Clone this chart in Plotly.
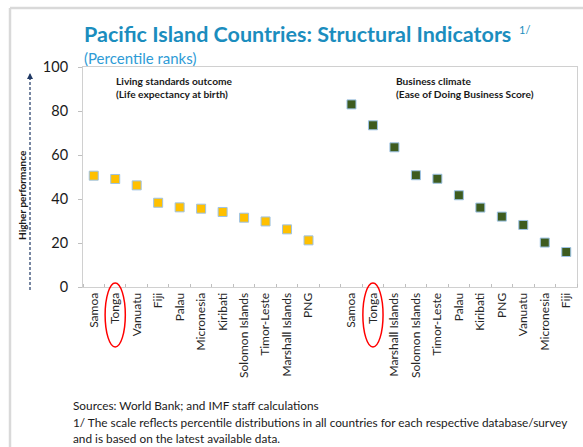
import plotly.graph_objects as go

# ---------------- data ----------------
left_countries = ["Samoa", "Tonga", "Vanuatu", "Fiji", "Palau", "Micronesia", "Kiribati",
                  "Solomon Islands", "Timor-Leste", "Marshall Islands", "PNG"]
left_values = [50.6, 49.1, 46.2, 38.3, 36.2, 35.6, 34.1, 31.5, 29.8, 26.2, 21.2]

right_countries = ["Samoa", "Tonga", "Marshall Islands", "Solomon Islands", "Timor-Leste", "Palau",
                   "Kiribati", "PNG", "Vanuatu", "Micronesia", "Fiji"]
right_values = [83.0, 73.5, 63.5, 50.8, 49.2, 41.7, 36.1, 32.0, 28.2, 20.2, 15.9]

y_ticks = [0, 20, 40, 60, 80, 100]
highlight = "Tonga"

# ---------------- layout helpers ----------------
W, H = 583, 447
L, R, T, B = 83, 6, 67, 160
pw, ph = W - L - R, H - T - B


def px(x):
    return (x - L) / pw


def py(y):
    return (H - B - y) / ph


FONT = "Lato, 'Open Sans', sans-serif"
TXT = "#1a1a1a"

left_x = list(range(len(left_countries)))
right_x = [len(left_countries) + 1 + i for i in range(len(right_countries))]
n_slots = right_x[-1] + 1

fig = go.Figure()
fig.add_trace(go.Scatter(
    x=left_x, y=left_values, mode="markers", showlegend=False,
    marker=dict(symbol="square", size=9, color="#FFC000",
                line=dict(color="#9DC3E6", width=1)),
))
fig.add_trace(go.Scatter(
    x=right_x, y=right_values, mode="markers", showlegend=False,
    marker=dict(symbol="square", size=9, color="#3E5C1F",
                line=dict(color="#9DC3E6", width=1)),
))

fig.update_xaxes(
    range=[-0.5, n_slots - 0.5],
    tickmode="array", tickvals=left_x + right_x, ticktext=left_countries + right_countries,
    tickangle=-90, ticks="", showgrid=False, zeroline=False,
    showline=True, mirror=True, linecolor="#D0D0D0", linewidth=1,
    tickfont=dict(family=FONT, size=12, color="#262626"),
    minor=dict(tickmode="array", tickvals=[i - 0.5 for i in range(n_slots + 1)],
               ticks="inside", ticklen=3, tickcolor="#BFBFBF", tickwidth=1, showgrid=False),
)
fig.update_yaxes(
    range=[0, 100], tickmode="array", tickvals=y_ticks,
    ticks="outside", ticklen=4, tickcolor="#BFBFBF", showgrid=False, zeroline=False,
    showline=True, mirror=True, linecolor="#D0D0D0", linewidth=1,
    tickfont=dict(family=FONT, size=14.5, color=TXT), ticklabelstandoff=7,
)

annotations = [
    dict(x=px(82), y=py(34), xref="paper", yref="paper", xanchor="left", yanchor="middle",
         text="<b>Pacific Island Countries: Structural Indicators</b>", showarrow=False,
         font=dict(family=FONT, size=21.5, color="#1B8DBE")),
    dict(x=px(517), y=py(30), xref="paper", yref="paper", xanchor="left", yanchor="middle",
         text="1/", showarrow=False, font=dict(family=FONT, size=11, color="#1B8DBE")),
    dict(x=px(82), y=py(58), xref="paper", yref="paper", xanchor="left", yanchor="middle",
         text="(Percentile ranks)", showarrow=False,
         font=dict(family=FONT, size=15, color="#2E9BD6")),
    dict(x=px(114), y=py(73), xref="paper", yref="paper", xanchor="left", yanchor="top",
         text="<b>Living standards outcome<br>(Life expectancy at birth)</b>", showarrow=False,
         align="left", font=dict(family=FONT, size=10.2, color=TXT)),
    dict(x=px(394), y=py(73), xref="paper", yref="paper", xanchor="left", yanchor="top",
         text="<b>Business climate<br>(Ease of Doing Business Score)</b>", showarrow=False,
         align="left", font=dict(family=FONT, size=10.2, color=TXT)),
    dict(x=px(22), y=py(195), xref="paper", yref="paper", xanchor="center", yanchor="middle",
         text="<b>Higher performance</b>", textangle=-90, showarrow=False,
         font=dict(family=FONT, size=10, color=TXT)),
    dict(x=px(30), y=py(73), xref="paper", yref="paper", ax=0, ay=8, text="",
         showarrow=True, arrowhead=2, arrowsize=1, arrowwidth=1.2, arrowcolor="#1F3864"),
    dict(x=px(71), y=py(405), xref="paper", yref="paper", xanchor="left", yanchor="middle",
         text="Sources: World Bank; and IMF staff calculations", showarrow=False,
         font=dict(family=FONT, size=11.8, color=TXT)),
    dict(x=px(71), y=py(422), xref="paper", yref="paper", xanchor="left", yanchor="middle",
         text="1/ The scale reflects percentile distributions in all countries for each respective database/survey",
         showarrow=False, font=dict(family=FONT, size=11.8, color=TXT)),
    dict(x=px(71), y=py(438), xref="paper", yref="paper", xanchor="left", yanchor="middle",
         text="and is based on the latest available data.", showarrow=False,
         font=dict(family=FONT, size=11.8, color=TXT)),
]

shapes = [
    # outer frame
    dict(type="line", xref="paper", yref="paper", x0=px(10), x1=px(620), y0=py(8), y1=py(8),
         line=dict(color="#D9D9D9", width=2.5)),
    dict(type="line", xref="paper", yref="paper", x0=px(10), x1=px(10), y0=py(8), y1=py(480),
         line=dict(color="#D9D9D9", width=2.5)),
    # dashed arrow shaft
    dict(type="line", xref="paper", yref="paper", x0=px(30), x1=px(30), y0=py(290), y1=py(76),
         line=dict(color="#1F3864", width=1.2, dash="3px,2px")),
]
# red ellipses around the highlighted country labels
for cats, xs in ((left_countries, left_x), (right_countries, right_x)):
    xc = xs[cats.index(highlight)]
    shapes.append(dict(type="circle", xref="x", yref="paper", x0=xc - 0.47, x1=xc + 0.47,
                       y0=py(347), y1=py(283), line=dict(color="#FF0000", width=1.5)))

fig.update_layout(
    width=W, height=H, margin=dict(l=L, r=R, t=T, b=B, autoexpand=False),
    paper_bgcolor="white", plot_bgcolor="white",
    annotations=annotations, shapes=shapes, showlegend=False,
)

fig.write_html("out.html", config={"displayModeBar": False},
               post_script="document.body.style.margin='0';document.body.style.overflow='hidden';")
